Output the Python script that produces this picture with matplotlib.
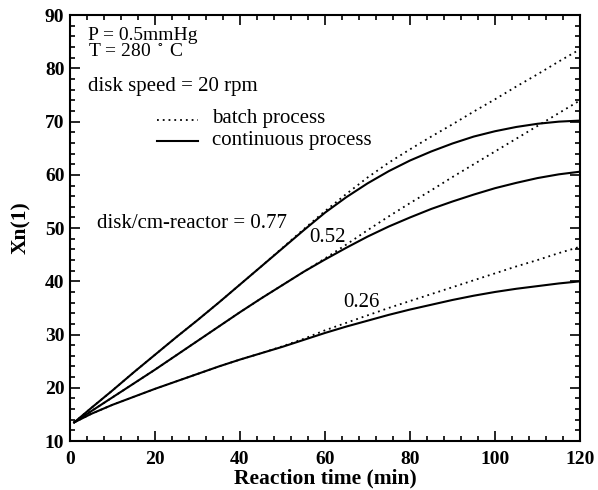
import matplotlib
matplotlib.use("Agg")
import matplotlib.pyplot as plt
from matplotlib.ticker import MultipleLocator

plt.rcParams['font.family'] = ['Liberation Serif', 'DejaVu Serif']
plt.rcParams['mathtext.fontset'] = 'stix'

# reaction time (min)
t = [1, 5, 10, 15, 20, 25, 30, 35, 40, 45, 50, 55, 60,
     65, 70, 75, 80, 85, 90, 95, 100, 105, 110, 115, 120]

# continuous process, Xn(1)
cont_077 = [13.5, 16.2, 19.5, 22.9, 26.2, 29.5, 32.7, 36.0, 39.4, 42.8, 46.2, 49.6, 52.9,
            55.8, 58.4, 60.7, 62.7, 64.4, 65.9, 67.2, 68.2, 69.0, 69.6, 70.0, 70.2]
cont_052 = [13.5, 15.6, 18.2, 20.8, 23.4, 26.1, 28.8, 31.5, 34.2, 36.8, 39.3, 41.8, 44.1,
            46.3, 48.4, 50.3, 52.0, 53.6, 55.0, 56.3, 57.5, 58.5, 59.4, 60.1, 60.6]
cont_026 = [13.5, 15.1, 16.8, 18.3, 19.8, 21.2, 22.6, 24.0, 25.3, 26.5, 27.7, 29.0, 30.3,
            31.5, 32.6, 33.7, 34.7, 35.6, 36.5, 37.3, 38.0, 38.6, 39.1, 39.6, 40.0]

# batch process, Xn(1)
batch_077 = [13.5, 16.2, 19.5, 22.9, 26.2, 29.5, 32.7, 36.0, 39.4, 42.8, 46.3, 49.8, 53.2,
             56.4, 59.5, 62.3, 64.8, 67.2, 69.5, 71.9, 74.2, 76.6, 78.9, 81.3, 83.6]
batch_052 = [13.5, 15.6, 18.2, 20.8, 23.4, 26.1, 28.8, 31.5, 34.2, 36.8, 39.3, 41.8, 44.3,
             46.9, 49.6, 52.2, 54.7, 57.1, 59.6, 62.0, 64.4, 66.8, 69.2, 71.6, 74.0]
batch_026 = [13.5, 15.1, 16.8, 18.3, 19.8, 21.2, 22.6, 24.0, 25.3, 26.5, 27.8, 29.2, 30.8,
             32.2, 33.6, 35.0, 36.3, 37.6, 38.9, 40.2, 41.5, 42.8, 44.0, 45.3, 46.5]

fig = plt.figure(figsize=(5.98, 4.90), dpi=100)
ax = fig.add_axes([0.117, 0.100, 0.853, 0.869])

dot = (0, (1, 2.2))
for yb in (batch_077, batch_052, batch_026):
    ax.plot(t, yb, color='black', lw=1.3, linestyle=dot)
for yc in (cont_077, cont_052, cont_026):
    ax.plot(t, yc, color='black', lw=1.5)

ax.set_xlim(0, 120)
ax.set_ylim(10, 90)
ax.xaxis.set_major_locator(MultipleLocator(20))
ax.xaxis.set_minor_locator(MultipleLocator(4))
ax.yaxis.set_major_locator(MultipleLocator(10))
ax.yaxis.set_minor_locator(MultipleLocator(2))
ax.tick_params(which='both', direction='in', top=True, right=True, width=1.2)
ax.tick_params(which='major', length=7, labelsize=14)
ax.tick_params(which='minor', length=3.5)
ax.tick_params(axis='x', which='major', pad=7)
ax.tick_params(axis='y', which='major', pad=4)
for lab in ax.get_xticklabels() + ax.get_yticklabels():
    lab.set_fontweight('bold')
for s in ax.spines.values():
    s.set_linewidth(1.5)

ax.set_xlabel('Reaction time (min)', fontsize=15.5, fontweight='bold', va='top')
ax.xaxis.set_label_coords(0.5, -0.064)
ax.set_ylabel('Xn(1)', fontsize=15.5, fontweight='bold')
ax.yaxis.set_label_coords(-0.076, 0.5)

fs = 15
ax.text(4.3, 85.3, 'P = 0.5mmHg', fontsize=14, va='baseline', ha='left')
ax.text(4.3, 82.3, 'T = 280 $^\\circ$ C', fontsize=14, va='baseline', ha='left')
ax.text(4.3, 75.7, 'disk speed = 20 rpm', fontsize=fs, va='baseline', ha='left')
ax.plot([20.4, 30.1], [70.4, 70.4], color='black', lw=1.3, linestyle=dot)
ax.plot([20.4, 30.1], [66.3, 66.3], color='black', lw=1.5)
ax.text(33.3, 69.7, 'batch process', fontsize=fs, va='baseline', ha='left')
ax.text(33.3, 65.6, 'continuous process', fontsize=fs, va='baseline', ha='left')
ax.text(6.3, 50.0, 'disk/cm-reactor = 0.77', fontsize=fs, va='baseline', ha='left')
ax.text(56.2, 47.4, '0.52', fontsize=fs, va='baseline', ha='left')
ax.text(64.2, 35.2, '0.26', fontsize=fs, va='baseline', ha='left')

fig.savefig('out.png', dpi=100)
